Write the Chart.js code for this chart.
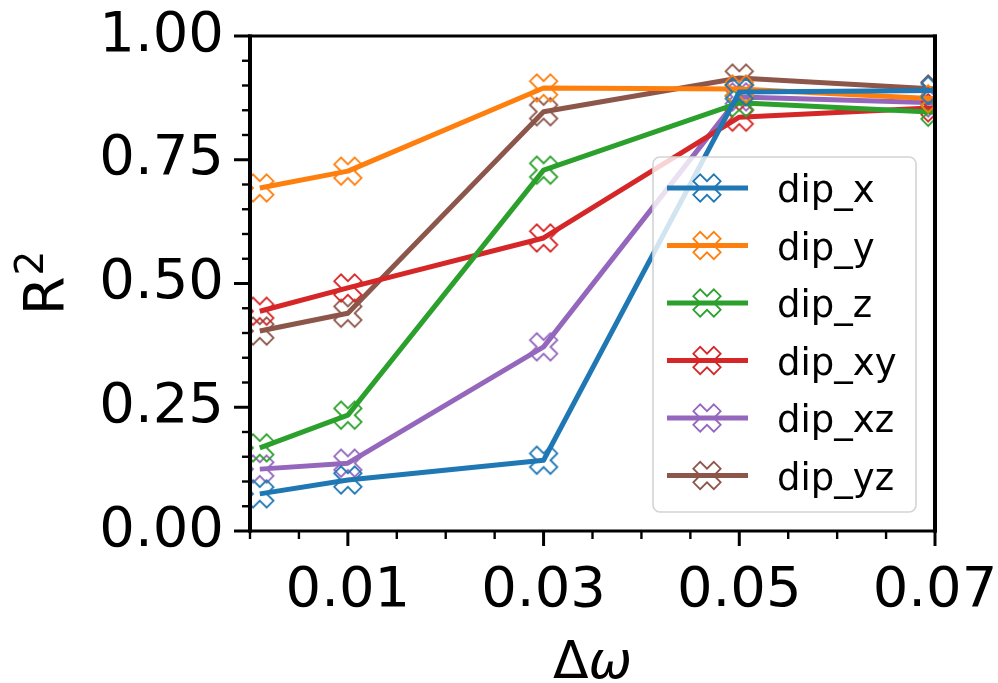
<!DOCTYPE html>
<html>
<head>
<meta charset="utf-8">
<script src="https://cdn.jsdelivr.net/npm/chart.js@4.4.0/dist/chart.umd.min.js"></script>
<style>
  html, body { margin: 0; padding: 0; background: #fff; }
  #wrap { width: 998px; height: 683px; }
</style>
</head>
<body>
<div id="wrap"><canvas id="r2Chart" width="998" height="683"></canvas></div>
<script>
// values
const xVals = [0.001, 0.01, 0.03, 0.05, 0.07];
const dipX  = [0.075, 0.103, 0.143, 0.887, 0.890];
const dipY  = [0.693, 0.727, 0.895, 0.893, 0.873];
const dipZ  = [0.168, 0.234, 0.729, 0.865, 0.846];
const dipXY = [0.444, 0.491, 0.592, 0.836, 0.855];
const dipXZ = [0.125, 0.137, 0.372, 0.877, 0.865];
const dipYZ = [0.404, 0.440, 0.847, 0.915, 0.893];

const seriesNames = ["dip_x", "dip_y", "dip_z", "dip_xy", "dip_xz", "dip_yz"];
const seriesColors = ["#1f77b4", "#ff7f0e", "#2ca02c", "#d62728", "#9467bd", "#8c564b"];

const xTickVals = [0.01, 0.03, 0.05, 0.07];
const xTickLabels = ["0.01", "0.03", "0.05", "0.07"];
const yTickVals = [0, 0.25, 0.5, 0.75, 1.0];
const yTickLabels = ["0.00", "0.25", "0.50", "0.75", "1.00"];

const FONT = "'DejaVu Sans', sans-serif";

// hollow "X" marker like matplotlib's filled X, drawn as outline
function xMarkerPath(ctx, cx, cy, size) {
  const pts = [[-1,-3],[1,-3],[1,-1],[3,-1],[3,1],[1,1],[1,3],[-1,3],[-1,1],[-3,1],[-3,-1],[-1,-1]];
  const c = Math.SQRT1_2;
  ctx.beginPath();
  pts.forEach((p, i) => {
    const x = p[0] / 6 * size, y = p[1] / 6 * size;
    const rx = (x - y) * c, ry = (x + y) * c;
    if (i === 0) ctx.moveTo(cx + rx, cy + ry); else ctx.lineTo(cx + rx, cy + ry);
  });
  ctx.closePath();
}

function makeMarker(color) {
  const cv = document.createElement("canvas");
  cv.width = 34; cv.height = 34;
  const ctx = cv.getContext("2d");
  ctx.strokeStyle = color;
  ctx.lineWidth = 1.8;
  ctx.lineJoin = "miter";
  xMarkerPath(ctx, 17, 17, 29);
  ctx.stroke();
  return cv;
}

const allSeries = [dipX, dipY, dipZ, dipXY, dipXZ, dipYZ];
const datasets = allSeries.map((vals, i) => ({
  label: seriesNames[i],
  data: vals.map((v, k) => ({ x: xVals[k], y: v })),
  borderColor: seriesColors[i],
  borderWidth: 5,
  borderJoinStyle: "round",
  borderCapStyle: "butt",
  pointStyle: makeMarker(seriesColors[i]),
  pointRadius: 14,
  pointHoverRadius: 14,
  tension: 0,
  fill: false,
  clip: 0,
}));

// spines, major/minor ticks, axis titles and the framed legend
const decoPlugin = {
  id: "deco",
  afterDatasetsDraw(chart) {
    const { ctx, chartArea: a, scales: { x, y } } = chart;
    ctx.save();
    ctx.strokeStyle = "#000";
    // minor ticks
    ctx.lineWidth = 2.4;
    for (let k = 0; k <= 14; k++) {
      const v = k * 0.005;
      if (xTickVals.some(t => Math.abs(t - v) < 1e-9)) continue;
      const px = x.getPixelForValue(v);
      ctx.beginPath(); ctx.moveTo(px, a.bottom); ctx.lineTo(px, a.bottom + 8); ctx.stroke();
    }
    for (let k = 0; k <= 20; k++) {
      const v = k * 0.05;
      if (yTickVals.some(t => Math.abs(t - v) < 1e-9)) continue;
      const py = y.getPixelForValue(v);
      ctx.beginPath(); ctx.moveTo(a.left, py); ctx.lineTo(a.left - 8, py); ctx.stroke();
    }
    // major ticks
    ctx.lineWidth = 3;
    xTickVals.forEach(v => {
      const px = x.getPixelForValue(v);
      ctx.beginPath(); ctx.moveTo(px, a.bottom); ctx.lineTo(px, a.bottom + 15); ctx.stroke();
    });
    yTickVals.forEach(v => {
      const py = y.getPixelForValue(v);
      ctx.beginPath(); ctx.moveTo(a.left, py); ctx.lineTo(a.left - 16, py); ctx.stroke();
    });
    // spines
    ctx.lineWidth = 3;
    ctx.beginPath();
    ctx.moveTo(a.left - 2, a.top); ctx.lineTo(a.right + 2, a.top);
    ctx.moveTo(a.left - 2, a.bottom); ctx.lineTo(a.right + 2, a.bottom);
    ctx.stroke();
    ctx.lineWidth = 4;
    ctx.beginPath();
    ctx.moveTo(a.left, a.top - 1.5); ctx.lineTo(a.left, a.bottom + 1.5);
    ctx.moveTo(a.right, a.top - 1.5); ctx.lineTo(a.right, a.bottom + 1.5);
    ctx.stroke();

    // axis titles
    ctx.fillStyle = "#000";
    ctx.textBaseline = "alphabetic";
    ctx.font = "52px " + FONT;
    const dW = ctx.measureText("\u0394").width;
    ctx.font = "italic 52px " + FONT;
    const wW = ctx.measureText("\u03c9").width;
    const xc = (a.left + a.right) / 2;
    let sx = xc - (dW + wW) / 2;
    ctx.textAlign = "left";
    ctx.font = "52px " + FONT;
    ctx.fillText("\u0394", sx, 678);
    ctx.font = "italic 52px " + FONT;
    ctx.fillText("\u03c9", sx + dW, 678);

    ctx.save();
    ctx.translate(63, (a.top + a.bottom) / 2);
    ctx.rotate(-Math.PI / 2);
    ctx.font = "56px " + FONT;
    const rW = ctx.measureText("R").width;
    ctx.font = "39px " + FONT;
    const tW = ctx.measureText("2").width;
    const s0 = -(rW + tW) / 2;
    ctx.font = "56px " + FONT;
    ctx.fillText("R", s0, 0);
    ctx.font = "39px " + FONT;
    ctx.fillText("2", s0 + rW + 1, -20);
    ctx.restore();
    ctx.restore();
  },
  afterDraw(chart) {
    const { ctx } = chart;
    const bx = 653, by = 157, bw = 263, bh = 355, r = 7;
    ctx.save();
    ctx.beginPath();
    ctx.roundRect(bx, by, bw, bh, r);
    ctx.fillStyle = "rgba(255,255,255,0.8)";
    ctx.fill();
    ctx.strokeStyle = "#d4d4d4";
    ctx.lineWidth = 1.6;
    ctx.stroke();
    ctx.font = "37px " + FONT;
    ctx.textAlign = "left";
    ctx.textBaseline = "alphabetic";
    chart.data.datasets.forEach((ds, i) => {
      const cy = 188 + i * 57.5;
      ctx.strokeStyle = ds.borderColor;
      ctx.lineWidth = 5;
      ctx.beginPath(); ctx.moveTo(667, cy); ctx.lineTo(748, cy); ctx.stroke();
      ctx.lineWidth = 1.8;
      xMarkerPath(ctx, 707, cy, 29);
      ctx.stroke();
      ctx.fillStyle = "#000";
      ctx.fillText(ds.label, 777, cy + 14);
    });
    ctx.restore();
  }
};

Chart.defaults.font.family = FONT;
Chart.defaults.color = "#000";

new Chart(document.getElementById("r2Chart"), {
  type: "line",
  data: { datasets },
  options: {
    responsive: false,
    animation: false,
    layout: { padding: { left: 0, top: 36, right: 63, bottom: 0 } },
    plugins: { legend: { display: false }, tooltip: { enabled: false } },
    scales: {
      x: {
        type: "linear",
        min: 0,
        max: 0.07,
        afterBuildTicks: s => { s.ticks = xTickVals.map(v => ({ value: v })); },
        afterFit: s => { s.height = 152; s.paddingLeft = 0; s.paddingRight = 0; },
        grid: { display: false, drawTicks: false },
        border: { display: false },
        ticks: {
          autoSkip: false,
          maxRotation: 0,
          padding: 27,
          font: { size: 56 },
          callback: (v, i) => xTickLabels[i],
        },
      },
      y: {
        min: 0,
        max: 1,
        afterBuildTicks: s => { s.ticks = yTickVals.map(v => ({ value: v })); },
        afterFit: s => { s.width = 250; s.paddingTop = 0; s.paddingBottom = 0; },
        grid: { display: false, drawTicks: false },
        border: { display: false },
        ticks: {
          autoSkip: false,
          padding: 26,
          font: { size: 56 },
          callback: (v, i) => yTickLabels[i],
        },
      },
    },
  },
  plugins: [decoPlugin],
});
</script>
</body>
</html>
